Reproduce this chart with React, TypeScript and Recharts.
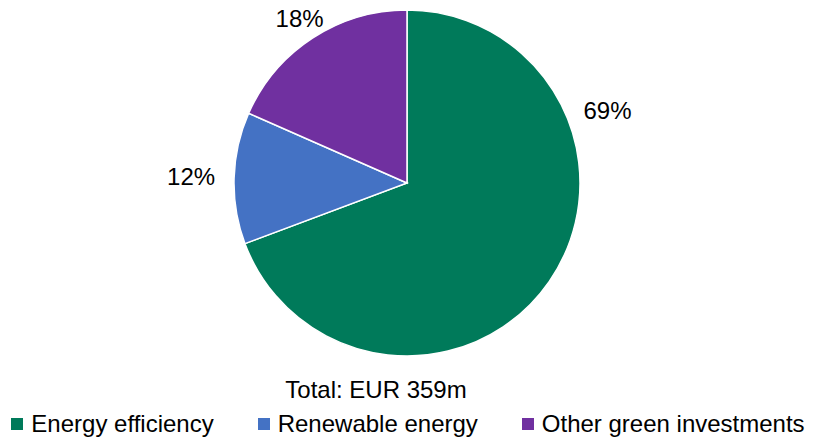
import { PieChart, Pie, Cell, Legend } from "recharts";

// ─── Data ─────────────────────────────────────────────────────────────────────

const categories = ["Energy efficiency", "Renewable energy", "Other green investments"];
const shares = [69.3, 12.3, 18.4];
const colors = ["#007A5A", "#4472C4", "#7030A0"];
const totalLabel = "Total: EUR 359m";

const data = categories.map((name, i) => ({ name, value: shares[i] }));

// Excel's "best fit" pushes the big slice label up towards the right side
const labelAngleOverride: Record<string, number> = { "Energy efficiency": 20 };

const FONT = '"Liberation Sans", Arial, sans-serif';
const RADIAN = Math.PI / 180;

function OutsideLabel(props: any) {
    const cx = Number(props.cx);
    const cy = Number(props.cy);
    const outerRadius = Number(props.outerRadius);
    const angle = labelAngleOverride[props.name] ?? Number(props.midAngle);
    const cos = Math.cos(angle * RADIAN);
    const sin = Math.sin(angle * RADIAN);
    const r = outerRadius + 43 * Math.abs(cos);
    const x = cx + r * cos;
    const y = cy - r * sin;
    return (
        <text x={x} y={y} fill="#000" textAnchor="middle" dominantBaseline="central" style={{ fontSize: 24, fontFamily: FONT }}>
            {`${Math.round(Number(props.percent) * 100)}%`}
        </text>
    );
}

function LegendContent() {
    return (
        <div style={{ display: "flex", justifyContent: "center", gap: 44, fontFamily: FONT, fontSize: 24, color: "#000" }}>
            {categories.map((c, i) => (
                <div key={c} style={{ display: "flex", alignItems: "center" }}>
                    <span style={{ width: 12, height: 12, background: colors[i], marginRight: 8, display: "inline-block" }} />
                    <span>{c}</span>
                </div>
            ))}
        </div>
    );
}

export default function App() {
    return (
        <div style={{ position: "absolute", left: 0, top: 0, width: 816, height: 439, background: "#fff" }}>
            <PieChart width={816} height={439} margin={{ top: 0, right: 0, bottom: 0, left: 0 }}>
                <Pie
                    data={data}
                    dataKey="value"
                    nameKey="name"
                    cx={407}
                    cy={183}
                    outerRadius={173}
                    startAngle={90}
                    endAngle={-270}
                    stroke="#fff"
                    strokeWidth={1.5}
                    labelLine={false}
                    label={OutsideLabel}
                    isAnimationActive={false}
                >
                    {data.map((d, i) => (
                        <Cell key={d.name} fill={colors[i]} />
                    ))}
                </Pie>
                <text x={376} y={389} textAnchor="middle" dominantBaseline="central" style={{ fontSize: 24, fontFamily: FONT }} fill="#000">
                    {totalLabel}
                </text>
                <Legend content={LegendContent} wrapperStyle={{ position: "absolute", left: 0, top: 410, width: 816 }} />
            </PieChart>
        </div>
    );
}
